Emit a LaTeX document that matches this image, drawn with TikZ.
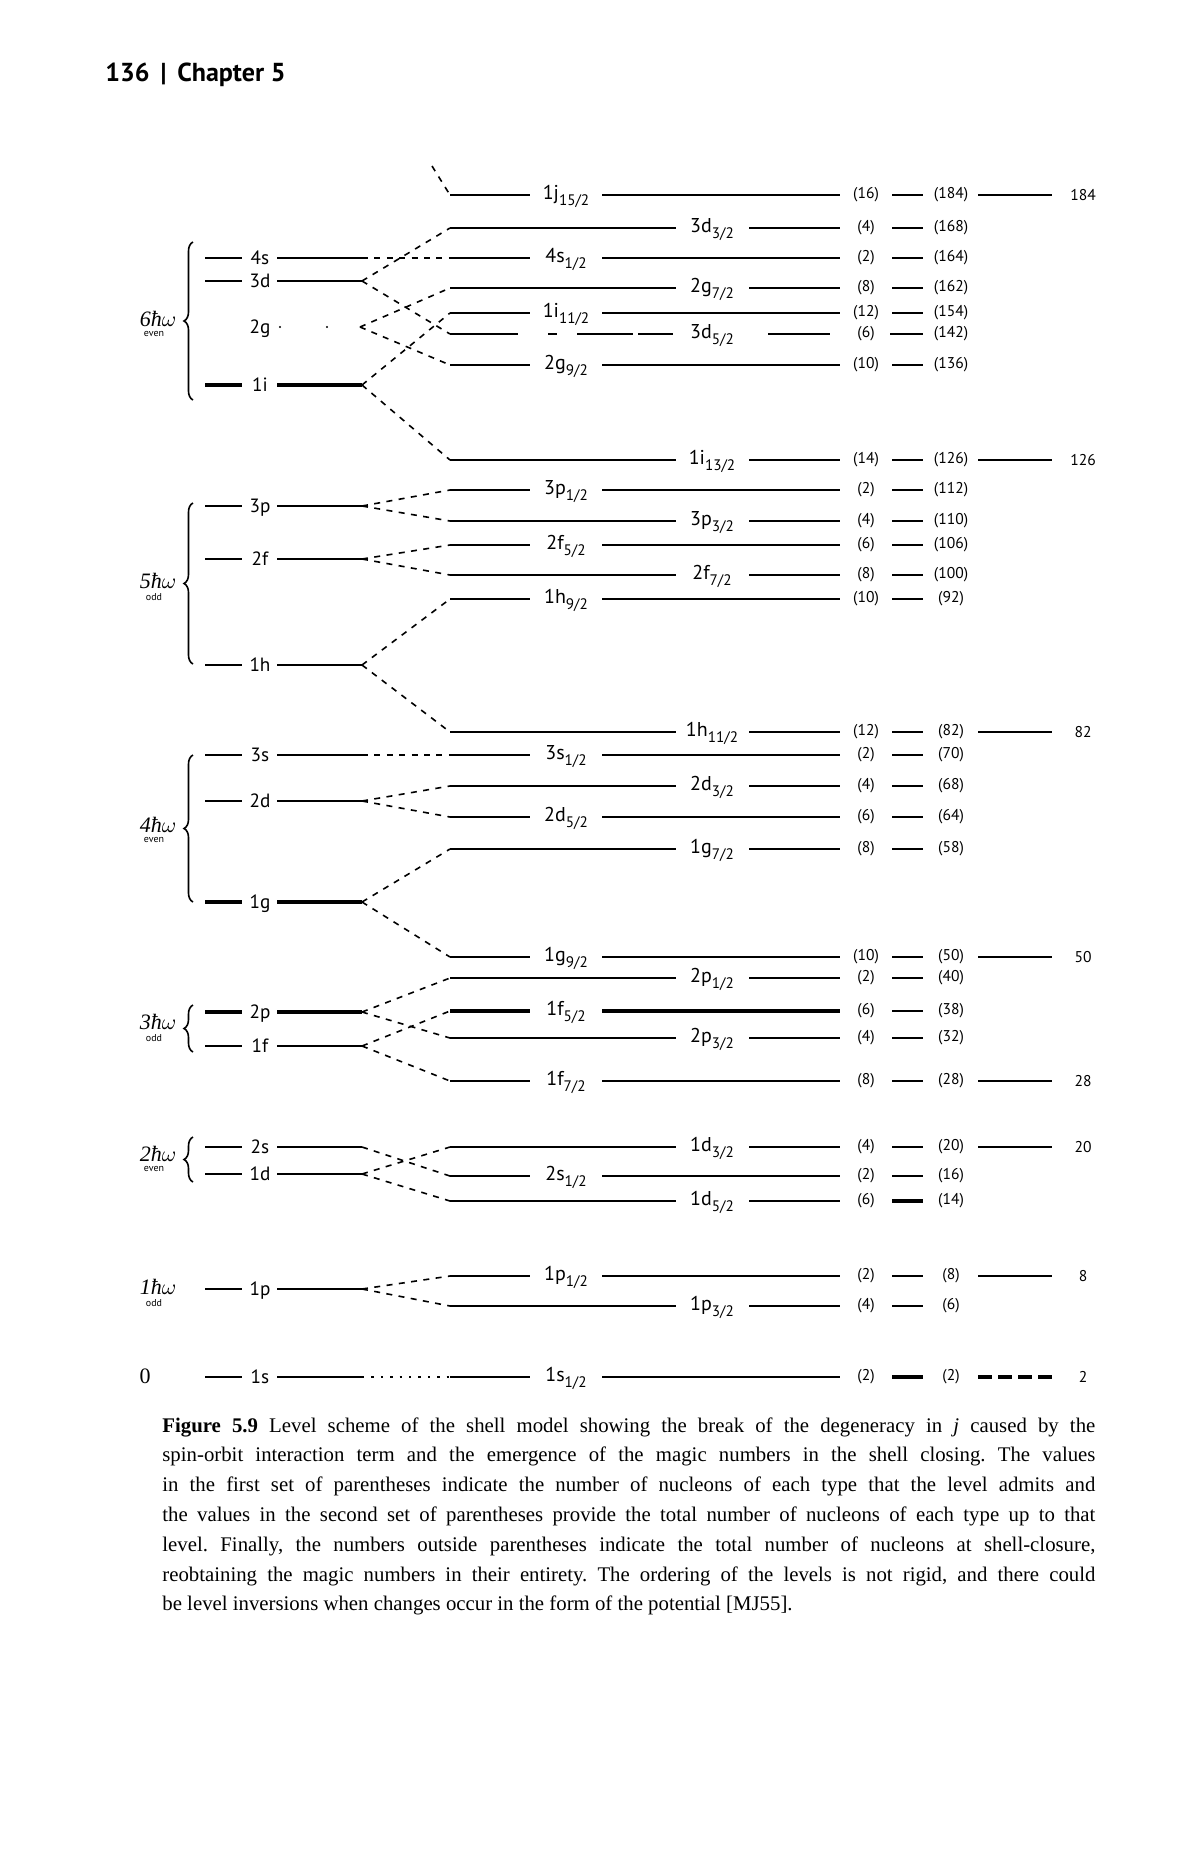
\documentclass[tikz,border=0pt]{standalone}
\usepackage{fontspec}
\setmainfont{Liberation Serif}
\newfontfamily\labfont{PT Sans}
\usetikzlibrary{decorations.pathreplacing}
\frenchspacing

\newcommand\sublab[2]{#1\raisebox{-3pt}{\fontsize{7.6}{8}\selectfont #2}}
\newcommand\hw[1]{{\itshape #1ħ}$\omega$}

% right level, label on the left part
\newcommand\RL[8]{%
  \coordinate (R#1) at (450,#2);
  \draw[#7] (R#1) -- (530,#2);
  \node[rlab] (lab#1) at (566,#2+4) {\sublab{#3}{#4}};
  \draw[#7] (602,#2) -- (840,#2);
  \node[num] (n#1) at (866,#2) {(#5)};
  \draw[#8] (892,#2) -- (923,#2);
  \node[num] (N#1) at (951,#2) {(#6)};
}
% right level, label in the middle part
\newcommand\RM[8]{%
  \coordinate (R#1) at (450,#2);
  \draw[#7] (R#1) -- (676,#2);
  \node[rlab] (lab#1) at (712,#2+4) {\sublab{#3}{#4}};
  \draw[#7] (749,#2) -- (840,#2);
  \node[num] (n#1) at (866,#2) {(#5)};
  \draw[#8] (892,#2) -- (923,#2);
  \node[num] (N#1) at (951,#2) {(#6)};
}
% magic number
\newcommand\MG[4]{%
  \draw[#4] (978,#2) -- (1052,#2);
  \node[num] (m#1) at (1083,#2) {#3};
}
% left (oscillator) level
\newcommand\LV[4]{%
  \draw[#4] (205,#2) -- (242,#2);
  \node[llab] (ll#1) at (260,#2+6) {#3};
  \draw[#4] (277,#2) -- (362,#2);
  \coordinate (L#1) at (362,#2);
}

\tikzset{
  lvl/.style={line width=0.8pt},
  thicklvl/.style={line width=1.7pt},
  conn/.style={line width=0.8pt, dash pattern=on 3pt off 3.2pt},
  dotconn/.style={line width=0.8pt, dash pattern=on 1.2pt off 3.5pt},
  rlab/.style={anchor=base, inner sep=0pt, font=\labfont\fontsize{10}{11}\selectfont},
  llab/.style={anchor=base, inner sep=0pt, font=\labfont\fontsize{9.6}{11}\selectfont},
  num/.style={anchor=center, inner sep=0pt, font=\labfont\fontsize{7.8}{9}\selectfont},
  shell/.style={anchor=base, inner sep=0pt, font=\fontsize{11}{12}\selectfont},
  parity/.style={anchor=north, inner sep=0pt, font=\labfont\fontsize{5}{5.5}\selectfont},
  shellbrace/.style={line width=0.8pt, decorate, decoration={brace, amplitude=4.5pt}},
}

\begin{document}
\begin{tikzpicture}[x=0.5pt, y=-0.5pt]
\useasboundingbox (0,0) rectangle (1200,1864);
\fill[white] (0,0) rectangle (1200,1864);

% header
\node[anchor=base west, inner sep=0pt, font=\labfont\bfseries\fontsize{13}{15}\selectfont] (hdr) at (105,81) {136 \,|\, Chapter 5};

% ---------- right levels ----------
\RL{1j15}{195}{1j}{15/2}{16}{184}{lvl}{lvl}
\RM{3d32}{228}{3d}{3/2}{4}{168}{lvl}{lvl}
\RL{4s12}{258}{4s}{1/2}{2}{164}{lvl}{lvl}
\RM{2g72}{288}{2g}{7/2}{8}{162}{lvl}{lvl}
\RL{1i112}{313}{1i}{11/2}{12}{154}{lvl}{lvl}
% 3d5/2 (broken line)
\coordinate (R3d52) at (450,334);
\draw[lvl] (R3d52) -- (518,334);
\draw[lvl] (548,334) -- (557,334);
\draw[lvl] (577,334) -- (633,334);
\draw[lvl] (638,334) -- (673,334);
\node[rlab] (lab3d52) at (712,338) {\sublab{3d}{5/2}};
\draw[lvl] (768,334) -- (830,334);
\node[num] (n3d52) at (866,334) {(6)};
\draw[lvl] (890,334) -- (923,334);
\node[num] (N3d52) at (951,334) {(142)};
\RL{2g92}{365}{2g}{9/2}{10}{136}{lvl}{lvl}

\RM{1i132}{460}{1i}{13/2}{14}{126}{lvl}{lvl}
\RL{3p12}{490}{3p}{1/2}{2}{112}{lvl}{lvl}
\RM{3p32}{521}{3p}{3/2}{4}{110}{lvl}{lvl}
\RL{2f52}{545}{2f}{5/2}{6}{106}{lvl}{lvl}
\RM{2f72}{575}{2f}{7/2}{8}{100}{lvl}{lvl}
\RL{1h92}{599}{1h}{9/2}{10}{92}{lvl}{lvl}

\RM{1h112}{732}{1h}{11/2}{12}{82}{lvl}{lvl}
\RL{3s12}{755}{3s}{1/2}{2}{70}{lvl}{lvl}
\RM{2d32}{786}{2d}{3/2}{4}{68}{lvl}{lvl}
\RL{2d52}{817}{2d}{5/2}{6}{64}{lvl}{lvl}
\RM{1g72}{849}{1g}{7/2}{8}{58}{lvl}{lvl}

\RL{1g92}{957}{1g}{9/2}{10}{50}{lvl}{lvl}
\RM{2p12}{978}{2p}{1/2}{2}{40}{lvl}{lvl}
\RL{1f52}{1011}{1f}{5/2}{6}{38}{thicklvl}{lvl}
\RM{2p32}{1038}{2p}{3/2}{4}{32}{lvl}{lvl}
\RL{1f72}{1081}{1f}{7/2}{8}{28}{lvl}{lvl}

\RM{1d32}{1147}{1d}{3/2}{4}{20}{lvl}{lvl}
\RL{2s12}{1176}{2s}{1/2}{2}{16}{lvl}{lvl}
\RM{1d52}{1201}{1d}{5/2}{6}{14}{lvl}{thicklvl}

\RL{1p12}{1276}{1p}{1/2}{2}{8}{lvl}{lvl}
\RM{1p32}{1306}{1p}{3/2}{4}{6}{lvl}{lvl}

\RL{1s12}{1377}{1s}{1/2}{2}{2}{lvl}{thicklvl}

% magic numbers
\MG{184}{195}{184}{lvl}
\MG{126}{460}{126}{lvl}
\MG{82}{732}{82}{lvl}
\MG{50}{957}{50}{lvl}
\MG{28}{1081}{28}{lvl}
\MG{20}{1147}{20}{lvl}
\MG{8}{1276}{8}{lvl}
\MG{2}{1377}{2}{thicklvl, dash pattern=on 7pt off 3pt}

% ---------- left levels ----------
\LV{4s}{258}{4s}{lvl}
\LV{3d}{281}{3d}{lvl}
\node[llab] (ll2g) at (260,333) {2g};
\fill (280,327) circle (1.2);
\fill (327,327) circle (1.2);
\coordinate (L2g) at (360,327);
\LV{1i}{385}{1i}{thicklvl}

\LV{3p}{506}{3p}{lvl}
\LV{2f}{559}{2f}{lvl}
\LV{1h}{665}{1h}{lvl}

\LV{3s}{755}{3s}{lvl}
\LV{2d}{801}{2d}{lvl}
\LV{1g}{902}{1g}{thicklvl}

\LV{2p}{1012}{2p}{thicklvl}
\LV{1f}{1046}{1f}{lvl}

\LV{2s}{1147}{2s}{lvl}
\LV{1d}{1174}{1d}{lvl}

\LV{1p}{1289}{1p}{lvl}
\LV{1s}{1377}{1s}{lvl}

% ---------- shells ----------
\draw[shellbrace] (193,400) -- (193,242);
\node[shell] (s6) at (158,326) {\hw{6}};
\node[parity] (p6) at (154,331) {even};

\draw[shellbrace] (193,664) -- (193,503);
\node[shell] (s5) at (158,588) {\hw{5}};
\node[parity] (p5) at (154,593) {odd};

\draw[shellbrace] (193,902) -- (193,755);
\node[shell] (s4) at (158,832) {\hw{4}};
\node[parity] (p4) at (154,837) {even};

\draw[shellbrace] (193,1052) -- (193,1005);
\node[shell] (s3) at (158,1029) {\hw{3}};
\node[parity] (p3) at (154,1034) {odd};

\draw[shellbrace] (193,1182) -- (193,1137);
\node[shell] (s2) at (158,1161) {\hw{2}};
\node[parity] (p2) at (154,1166) {even};

\node[shell] (s1) at (158,1294) {\hw{1}};
\node[parity] (p1) at (154,1299) {odd};

\node[shell] (s0) at (145,1383) {0};

% ---------- connectors ----------
\coordinate (top7) at (432,166);
\draw[conn] (top7) -- (R1j15);
\draw[conn] (L4s) -- (R4s12);
\draw[conn] (L3d) -- (R3d32);
\draw[conn] (L3d) -- (R3d52);
\draw[conn] (L2g) -- (R2g72);
\draw[conn] (L2g) -- (R2g92);
\draw[conn] (L1i) -- (R1i112);
\draw[conn] (L1i) -- (R1i132);
\draw[conn] (L3p) -- (R3p12);
\draw[conn] (L3p) -- (R3p32);
\draw[conn] (L2f) -- (R2f52);
\draw[conn] (L2f) -- (R2f72);
\draw[conn] (L1h) -- (R1h92);
\draw[conn] (L1h) -- (R1h112);
\draw[conn] (L3s) -- (R3s12);
\draw[conn] (L2d) -- (R2d32);
\draw[conn] (L2d) -- (R2d52);
\draw[conn] (L1g) -- (R1g72);
\draw[conn] (L1g) -- (R1g92);
\draw[conn] (L2p) -- (R2p12);
\draw[conn] (L2p) -- (R2p32);
\draw[conn] (L1f) -- (R1f52);
\draw[conn] (L1f) -- (R1f72);
\draw[conn] (L2s) -- (R2s12);
\draw[conn] (L1d) -- (R1d32);
\draw[conn] (L1d) -- (R1d52);
\draw[conn] (L1p) -- (R1p12);
\draw[conn] (L1p) -- (R1p32);
\draw[dotconn] (L1s) -- (R1s12);

% ---------- caption ----------
\node[anchor=north west, inner sep=0pt, text width=466.5pt, align=justify,
      font=\fontsize{10.4}{14.9}\selectfont] (cap) at (162,1417)
{\textbf{Figure 5.9} Level scheme of the shell model showing the break of the degeneracy in \textit{j} caused by the\linebreak
spin-orbit interaction term and the emergence of the magic numbers in the shell closing. The values\linebreak
in the first set of parentheses indicate the number of nucleons of each type that the level admits and\linebreak
the values in the second set of parentheses provide the total number of nucleons of each type up to that\linebreak
level. Finally, the numbers outside parentheses indicate the total number of nucleons at shell-closure,\linebreak
reobtaining the magic numbers in their entirety. The ordering of the levels is not rigid, and there could\linebreak
be level inversions when changes occur in the form of the potential [MJ55].};
\end{tikzpicture}
\end{document}
